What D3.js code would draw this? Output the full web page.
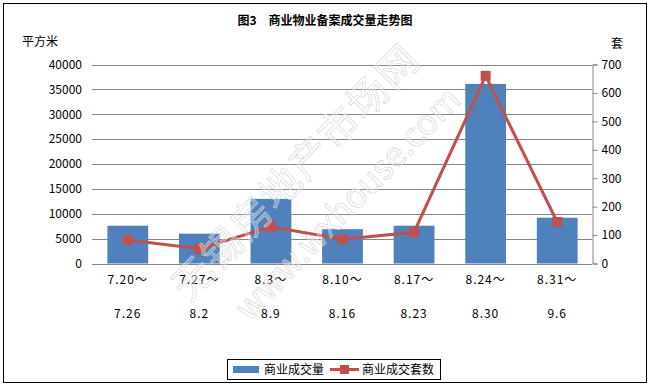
<!DOCTYPE html>
<html>
<head>
<meta charset="utf-8">
<script src="https://cdn.jsdelivr.net/npm/d3@7"></script>
<style>
  body { margin: 0; background: #fff; }
  text { font-family: "Noto Sans CJK SC", "DejaVu Sans", sans-serif; }
</style>
</head>
<body>
<script>
// data
var periodStart = ['7.20～', '7.27～', '8.3～', '8.10～', '8.17～', '8.24～', '8.31～'];
var periodEnd = ['7.26', '8.2', '8.9', '8.16', '8.23', '8.30', '9.6'];
var area = [7600, 6000, 13000, 6900, 7600, 36100, 9200];
var units = [83, 52, 129, 85, 110, 660, 146];
var leftTicks = [0, 5000, 10000, 15000, 20000, 25000, 30000, 35000, 40000];
var rightTicks = [0, 100, 200, 300, 400, 500, 600, 700];

var W = 650, H = 387;
var blue = '#4F81BD', red = '#C0504D';

var svg = d3.select('body').append('svg')
	.attr('width', W)
	.attr('height', H);

svg.append('rect')
	.attr('x', 3.5).attr('y', 3.5)
	.attr('width', 643).attr('height', 379)
	.attr('fill', '#fff')
	.attr('stroke', '#000')
	.attr('stroke-width', 1);

// scales
var x = d3.scaleBand().domain(d3.range(7)).range([92, 593]).paddingInner(0.43).paddingOuter(0.215);
var y = d3.scaleLinear().domain([0, 40000]).range([263.5, 64.5]);
var y2 = d3.scaleLinear().domain([0, 700]).range([263.5, 64.5]);

// grid
svg.append('g').selectAll('line')
	.data(leftTicks).enter()
	.append('line')
	.attr('x1', 92).attr('x2', 592)
	.attr('y1', function (d) { return Math.round(y(d)) + 0.5; })
	.attr('y2', function (d) { return Math.round(y(d)) + 0.5; })
	.attr('stroke', '#868686')
	.attr('stroke-width', 1);

// left axis labels
var yAxis = d3.axisLeft(y).tickValues(leftTicks).tickSize(0).tickPadding(10).tickFormat(d3.format('d'));
var gl = svg.append('g').attr('transform', 'translate(92,0)').call(yAxis);
gl.select('.domain').remove();
gl.selectAll('text').attr('font-size', 12).attr('fill', '#000');

// right axis
var y2Axis = d3.axisRight(y2).tickValues(rightTicks).tickSize(5).tickPadding(4).tickFormat(d3.format('d'));
var gr = svg.append('g').attr('transform', 'translate(592.5,0)').call(y2Axis);
gr.select('.domain').attr('stroke', '#868686');
gr.selectAll('line').attr('stroke', '#868686');
gr.selectAll('text').attr('font-size', 12).attr('fill', '#000');

// bars
svg.append('g').selectAll('rect')
	.data(area).enter()
	.append('rect')
	.attr('x', function (d, i) { return x(i); })
	.attr('y', function (d) { return y(d); })
	.attr('width', x.bandwidth())
	.attr('height', function (d) { return y(0) - y(d); })
	.attr('fill', blue);

// line
var line = d3.line()
	.x(function (d, i) { return x(i) + x.bandwidth() / 2; })
	.y(function (d) { return y2(d); });

svg.append('path')
	.datum(units)
	.attr('d', line)
	.attr('fill', 'none')
	.attr('stroke', red)
	.attr('stroke-width', 3);

svg.append('g').selectAll('rect')
	.data(units).enter()
	.append('rect')
	.attr('x', function (d, i) { return x(i) + x.bandwidth() / 2 - 5; })
	.attr('y', function (d) { return y2(d) - 5; })
	.attr('width', 10).attr('height', 10)
	.attr('fill', red);

// x labels
var xl = svg.append('g').selectAll('g')
	.data(periodStart).enter()
	.append('g');
xl.append('text')
	.attr('x', function (d, i) { return x(i) + x.bandwidth() / 2; })
	.attr('y', 284)
	.attr('text-anchor', 'middle')
	.attr('font-size', 12)
	.attr('letter-spacing', 1)
	.text(function (d) { return d; });
xl.append('text')
	.attr('x', function (d, i) { return x(i) + x.bandwidth() / 2; })
	.attr('y', 318)
	.attr('text-anchor', 'middle')
	.attr('font-size', 12)
	.attr('letter-spacing', 1)
	.text(function (d, i) { return periodEnd[i]; });

// watermark
var wm = svg.append('g').attr('pointer-events', 'none');
wm.append('text')
	.attr('transform', 'translate(306,182) rotate(-46)')
	.attr('text-anchor', 'middle')
	.attr('font-size', 40)
	.attr('letter-spacing', 2)
	.attr('fill', '#fff').attr('fill-opacity', 0.3)
	.attr('stroke', '#d2d2d2').attr('stroke-width', 0.6)
	.text('无锡房地产市场网');
wm.append('text')
	.attr('transform', 'translate(356,212) rotate(-46)')
	.attr('text-anchor', 'middle')
	.attr('font-size', 34)
	.attr('fill', '#fff').attr('fill-opacity', 0.3)
	.attr('stroke', '#d2d2d2').attr('stroke-width', 0.6)
	.text('www.wxhouse.com');

// titles
svg.append('text')
	.attr('x', 325).attr('y', 25)
	.attr('text-anchor', 'middle')
	.attr('font-size', 12)
	.attr('font-weight', 'bold')
	.text('图3　商业物业备案成交量走势图');
svg.append('text')
	.attr('x', 22).attr('y', 46)
	.attr('font-size', 12)
	.text('平方米');
svg.append('text')
	.attr('x', 611).attr('y', 48)
	.attr('font-size', 12)
	.text('套');

// legend
var lg = svg.append('g');
lg.append('rect')
	.attr('x', 227.5).attr('y', 359.5)
	.attr('width', 213).attr('height', 20)
	.attr('fill', '#fff').attr('stroke', '#000');
lg.append('rect')
	.attr('x', 233).attr('y', 366)
	.attr('width', 26).attr('height', 7)
	.attr('fill', blue);
lg.append('text')
	.attr('x', 264).attr('y', 374)
	.attr('font-size', 12)
	.text('商业成交量');
lg.append('line')
	.attr('x1', 330).attr('x2', 359)
	.attr('y1', 369.5).attr('y2', 369.5)
	.attr('stroke', red).attr('stroke-width', 3);
lg.append('rect')
	.attr('x', 340).attr('y', 365)
	.attr('width', 9).attr('height', 9)
	.attr('fill', red);
lg.append('text')
	.attr('x', 362).attr('y', 374)
	.attr('font-size', 12)
	.text('商业成交套数');
</script>
</body>
</html>
